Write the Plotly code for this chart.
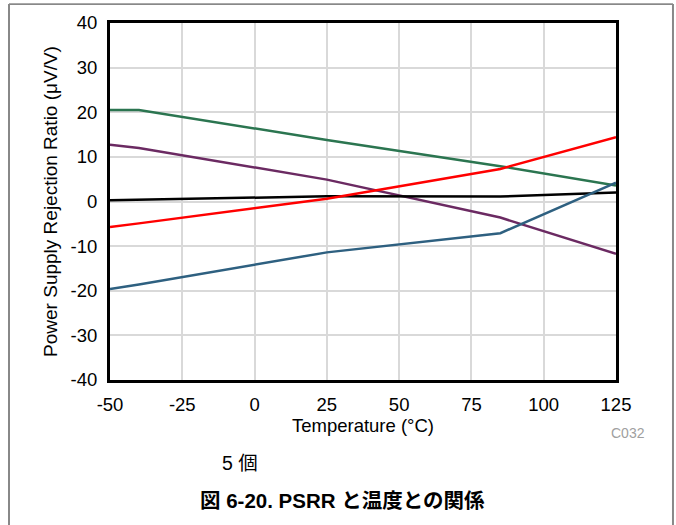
import plotly.graph_objects as go

temps = [-50, -40, 25, 85, 125]
unit_green = [20.5, 20.5, 13.8, 7.9, 3.6]
unit_purple = [12.7, 12.0, 4.9, -3.6, -11.7]
unit_black = [0.3, 0.4, 1.15, 1.1, 2.0]
unit_red = [-5.7, -4.9, 0.6, 7.3, 14.4]
unit_blue = [-19.6, -18.6, -11.4, -7.1, 4.2]

series = [
    (unit_green, "#2b7550"),
    (unit_purple, "#6b2a62"),
    (unit_black, "#000000"),
    (unit_red, "#ff0000"),
    (unit_blue, "#2e6080"),
]

x_ticks = [-50, -25, 0, 25, 50, 75, 100, 125]
y_ticks = [-40, -30, -20, -10, 0, 10, 20, 30, 40]

fig = go.Figure()
for vals, col in series:
    fig.add_trace(go.Scatter(x=temps, y=vals, mode="lines",
                             line=dict(color=col, width=2.5), showlegend=False))

font = "Liberation Sans, Arial, Noto Sans CJK JP"
fig.update_layout(
    width=676, height=525,
    margin=dict(l=110, r=60, t=20, b=145),
    paper_bgcolor="white", plot_bgcolor="white",
    font=dict(family=font, size=18.5, color="black"),
    xaxis=dict(range=[-50, 125], tickvals=x_ticks, ticktext=[str(v) for v in x_ticks],
               showgrid=True, gridcolor="#d9d9d9", gridwidth=1.5,
               showline=True, linecolor="black", linewidth=3, mirror=True,
               zeroline=False, ticks="", ticklabelstandoff=6,
               tickfont=dict(size=18.5),
               title=dict(text="Temperature (°C)", standoff=1, font=dict(size=18.5))),
    yaxis=dict(range=[-40, 40], tickvals=y_ticks, ticktext=[str(v) for v in y_ticks],
               showgrid=True, gridcolor="#d9d9d9", gridwidth=1.5,
               showline=True, linecolor="black", linewidth=3, mirror=True,
               zeroline=False, ticks="", ticklabelstandoff=6,
               tickfont=dict(size=18.5),
               title=dict(text="Power Supply Rejection Ratio (μV/V)",
                          standoff=8, font=dict(size=19))),
)

# page frame
fig.add_shape(type="line", xref="paper", yref="paper", x0=-0.1996, x1=1.1126, y0=1.053, y1=1.053,
              line=dict(color="#333333", width=1))
fig.add_shape(type="line", xref="paper", yref="paper", x0=-0.1996, x1=-0.1996, y0=1.053, y1=-0.41,
              line=dict(color="#888888", width=2))
fig.add_shape(type="line", xref="paper", yref="paper", x0=1.1126, x1=1.1126, y0=1.053, y1=-0.41,
              line=dict(color="#888888", width=2))

fig.add_annotation(text="C032", xref="paper", yref="paper", x=(628 - 110) / 506, y=(380 - 433) / 359,
                   showarrow=False, font=dict(size=14, color="#a0a0a0"), xanchor="center", yanchor="middle")
fig.add_annotation(text="5 個", xref="paper", yref="paper", x=(240 - 110) / 506, y=(380 - 463) / 359,
                   showarrow=False, font=dict(size=19.5, color="black"), xanchor="center", yanchor="middle")
fig.add_annotation(text="<b>図 6-20. PSRR と温度との関係</b>", xref="paper", yref="paper",
                   x=(342 - 110) / 506, y=(380 - 501) / 359,
                   showarrow=False, font=dict(size=20.5, color="black"), xanchor="center", yanchor="middle")

fig.write_html("out.html")
